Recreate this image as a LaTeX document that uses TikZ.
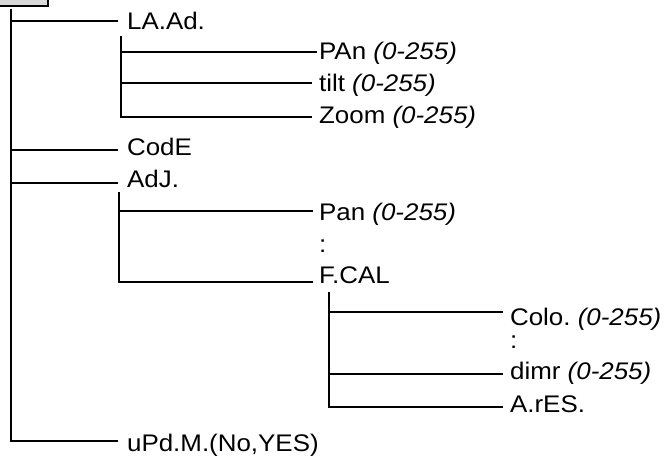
\documentclass[tikz,border=0pt]{standalone}
\usepackage{fontspec}
\setmainfont{Liberation Sans}
\frenchspacing
\newcommand\menufont{\fontsize{24}{28}\selectfont}
\newcommand\wide[1]{\scalebox{1.08}[1]{#1}}
\newcommand\rng{\textit{(0-255)}}

\begin{document}
\begin{tikzpicture}
        [x=1pt,y=-1pt,line width=2.2pt,
         every node/.style={anchor=base west,inner sep=0pt,font=\menufont}]

        \useasboundingbox (0,0) rectangle (671,457);

        % menu box, cut by the page edge
        \fill[gray!30,draw=black] (-10,-20) rectangle (48,6);

        % trunks
        \coordinate (t0) at (11,9);
        \coordinate (t1) at (121,36);
        \coordinate (t2) at (119,192);
        \coordinate (t3) at (329,292);

        % line ends
        \coordinate (e1) at (118,21);
        \coordinate (e2) at (118,150);
        \coordinate (e3) at (118,183);
        \coordinate (e4) at (118,441);
        \coordinate (e5) at (317,52);
        \coordinate (e6) at (312,83);
        \coordinate (e7) at (312,117);
        \coordinate (e8) at (313,211);
        \coordinate (e9) at (313,282);
        \coordinate (e10) at (503,312);
        \coordinate (e11) at (503,374);
        \coordinate (e12) at (503,407);

        \node (laad) at (126,30) {\wide{LA.Ad.}};
        \node (code) at (126,156) {\wide{CodE}};
        \node (adj) at (126,187) {\wide{AdJ.}};
        \node (upd) at (126,451) {\wide{uPd.M.(No,YES)}};
        \node (pan) at (318,60) {\wide{PAn \rng}};
        \node (tilt) at (318,92) {\wide{tilt \rng}};
        \node (zoom) at (318,124) {\wide{Zoom \rng}};
        \node (pan2) at (318,220) {\wide{Pan \rng}};
        \node (dots1) at (318,252) {\wide{:}};
        \node (fcal) at (318,283) {\wide{F.CAL}};
        \node (colo) at (509,325) {\wide{Colo. \rng}};
        \node (dots2) at (509,348) {\wide{:}};
        \node (dimr) at (509,379) {\wide{dimr \rng}};
        \node (ares) at (509,412) {\wide{A.rES.}};

        \draw (t0 |- e1) -- (e1);
        \draw (t0 |- e2) -- (e2);
        \draw (t0 |- e3) -- (e3);
        \draw (t0) |- (e4);

        \draw (t1 |- e5) -- (e5);
        \draw (t1 |- e6) -- (e6);
        \draw (t1) |- (e7);

        \draw (t2 |- e8) -- (e8);
        \draw (t2) |- (e9);

        \draw (t3 |- e10) -- (e10);
        \draw (t3 |- e11) -- (e11);
        \draw (t3) |- (e12);
      \end{tikzpicture}
\end{document}
